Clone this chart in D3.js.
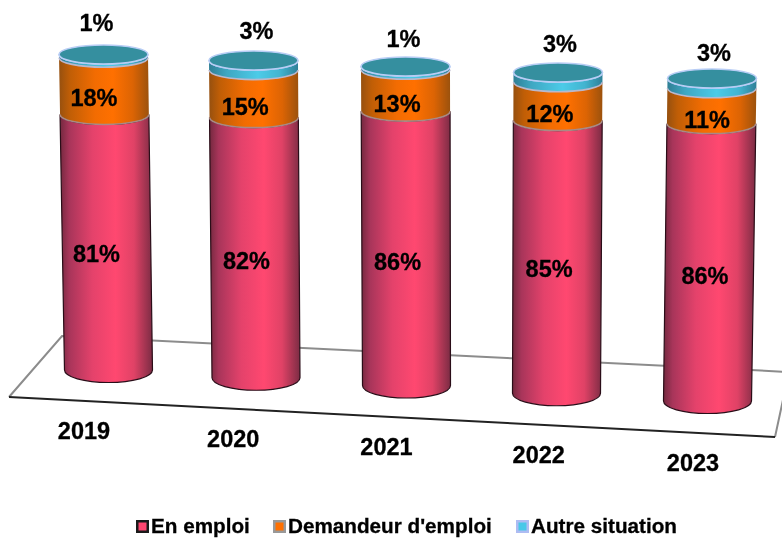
<!DOCTYPE html>
<html><head><meta charset="utf-8">
<script src="https://cdn.jsdelivr.net/npm/d3@7"></script>
<style>html,body{margin:0;padding:0;background:#fff}svg{display:block;filter:blur(0.35px)}text{font-family:"Liberation Sans",Arial,sans-serif;font-weight:700;fill:#000;stroke:#000;stroke-width:.3px}</style>
</head><body><svg id="c" width="782" height="540"></svg>
<script>
const years = ["2019","2020","2021","2022","2023"];
const enEmploi = [81,82,86,85,86];
const demandeur = [18,15,13,12,11];
const autre = [1,3,1,3,3];
const seriesNames = ["En emploi","Demandeur d'emploi","Autre situation"];
const topLabelDx = [-7,3,-2,2,2];
const topLabelDy = [-24,-22,-20,-21,-18];
const midLabelDx = [-10,-8.5,-8.5,-8,-4.5];
const midLabelDy = [20,21,21.5,20.5,22];
const yearDx = [0,-3,-2,-2,0];

const svg = d3.select("#c");
const rows = years.map((y,i)=>({year:y,i,a:enEmploi[i],b:demandeur[i],c:autre[i]}));
const stacked = d3.stack().keys(["a","b","c"])(rows);

const last = years.length-1;
const idx = d3.scaleLinear().domain([0,last]);
const order = d3.scaleLinear().domain(d3.range(years.length));
const topCx = order.copy().range([103.5,253.5,405.5,558,712]);
const botCx = order.copy().range([108.5,256,406.5,556.5,707.5]);
const topCy = idx.copy().range([54.5,78.5]);
const botCy = idx.copy().range([370,401]);
const labelX = idx.copy().range([84,693]);
const labelY = idx.copy().range([439,471]);

function geom(i){
  const t = d3.scaleLinear().domain([0,100]);
  return {
    cx:t.copy().range([botCx(i),topCx(i)]),
    cy:t.copy().range([botCy(i),topCy(i)]),
    rx:t.copy().range([44,44.5]),
    ry:t.copy().range([12.5,9.5])
  };
}
const defs = svg.append("defs");
function grad(id,stops){
  const g = defs.append("linearGradient").attr("id",id).attr("x1",0).attr("x2",1).attr("y1",0).attr("y2",0);
  stops.forEach(s=>g.append("stop").attr("offset",s[0]).attr("stop-color",s[1]));
}
grad("gA",[[0,"#74293f"],[.1,"#a8355a"],[.35,"#e4426b"],[.6,"#ff4870"],[.8,"#e04266"],[1,"#7c2c44"]]);
grad("gB",[[0,"#96500f"],[.12,"#c05e06"],[.4,"#f26c02"],[.6,"#ff7000"],[.82,"#dc6404"],[1,"#9c520d"]]);
grad("gC",[[0,"#2f7f95"],[.2,"#3fa7c2"],[.55,"#4ccbe8"],[.8,"#42b4d0"],[1,"#2f8098"]]);
const fills = ["url(#gA)","url(#gB)","url(#gC)"];
const capStroke = ["#a98a86","#b9b7cc","#b8cdf5"];

const floor = {fl:[9,397],fr:[775,437],br:[789,372],bl:[62,336]};
svg.append("path").attr("d",d3.line()([floor.fl,floor.bl,floor.br,floor.fr])).attr("fill","none").attr("stroke","#8c8c8c").attr("stroke-width",2);
svg.append("path").attr("d",d3.line()([floor.fl,floor.fr])).attr("fill","none").attr("stroke","#222").attr("stroke-width",2);

function seg(g,v0,v1){
  const x0=g.cx(v0),y0=g.cy(v0),r0=g.rx(v0),h0=g.ry(v0);
  const x1=g.cx(v1),y1=g.cy(v1),r1=g.rx(v1),h1=g.ry(v1);
  return `M${x1-r1},${y1}L${x0-r0},${y0}A${r0},${h0} 0 0 0 ${x0+r0},${y0}L${x1+r1},${y1}A${r1},${h1} 0 0 1 ${x1-r1},${y1}Z`;
}
function lowerArc(g,v){
  const x=g.cx(v),y=g.cy(v),r=g.rx(v),h=g.ry(v);
  return `M${x-r},${y}A${r},${h} 0 0 0 ${x+r},${y}`;
}

rows.forEach(d=>{
  const g = geom(d.i), cyl = svg.append("g");
  stacked.forEach((s,k)=>{
    const [v0,v1] = s[d.i];
    cyl.append("path").attr("d",seg(g,v0,v1)).attr("fill",fills[k]);
    if(k===0) cyl.append("path").attr("d",seg(g,v0,v1)).attr("fill","none").attr("stroke","#2a0d18").attr("stroke-width",1.2);
  });
  stacked.forEach((s,k)=>{
    cyl.append("path").attr("d",lowerArc(g,s[d.i][1])).attr("fill","none").attr("stroke",capStroke[k]).attr("stroke-width",1.6);
  });
  const top = stacked[2][d.i][1];
  cyl.append("ellipse").attr("cx",g.cx(top)).attr("cy",g.cy(top)).attr("rx",g.rx(top)).attr("ry",g.ry(top))
    .attr("fill","#358f9f").attr("stroke","#b8cdf5").attr("stroke-width",1.6);

  [0,1].forEach(k=>{
    const [a,b] = stacked[k][d.i];
    svg.append("text").attr("x",g.cx((a+b)/2)+midLabelDx[d.i]).attr("y",g.cy((a+b)/2)+midLabelDy[d.i])
      .attr("text-anchor","middle").attr("font-size",23.5).text((b-a)+"%");
  });
  svg.append("text").attr("x",g.cx(top)+topLabelDx[d.i]).attr("y",g.cy(top)+topLabelDy[d.i])
    .attr("text-anchor","middle").attr("font-size",23.5).text(d.c+"%");

  svg.append("text").attr("x",labelX(d.i)+yearDx[d.i]).attr("y",labelY(d.i)).attr("text-anchor","middle").attr("font-size",23.5).text(d.year);
});

const legendX = d3.scaleOrdinal().domain(seriesNames).range([136,273,516]);
const legendFill = ["#ff4670","#ff7000","#48c8e8"];
const legendStroke = ["#1a1a1a","#999","#aebcf2"];
seriesNames.forEach((n,k)=>{
  const x = legendX(n);
  svg.append("rect").attr("x",x+1.25).attr("y",521.25).attr("width",10.5).attr("height",10.5).attr("fill",legendFill[k]).attr("stroke",legendStroke[k]).attr("stroke-width",2.5);
  svg.append("text").attr("x",x+15).attr("y",533).attr("font-size",20.7).text(n);
});
</script></body></html>
